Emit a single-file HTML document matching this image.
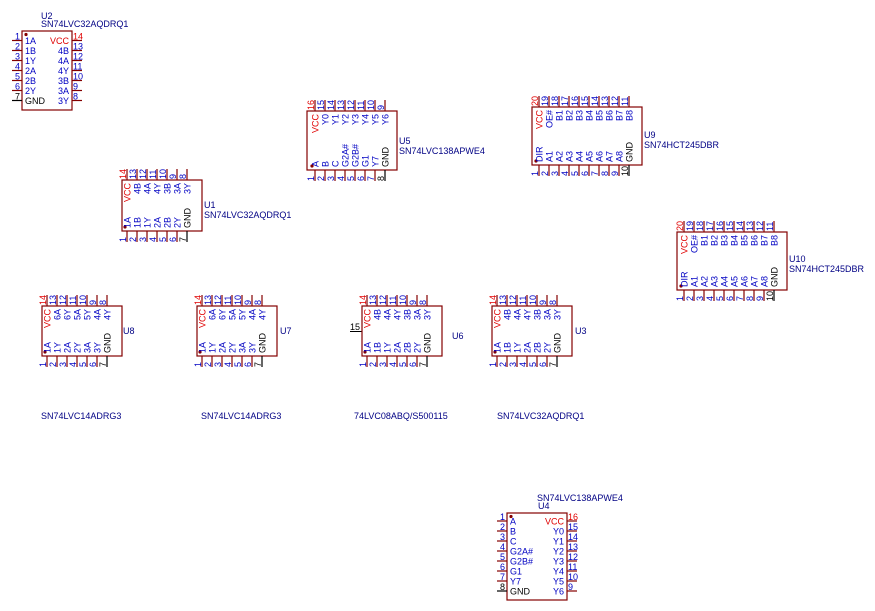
<!DOCTYPE html>
<html><head><meta charset="utf-8"><style>
html,body{margin:0;padding:0;background:#fff;}
svg{display:block;font-family:"Liberation Sans",sans-serif;}
.b{fill:#fff;stroke:#840000;stroke-width:1.2;}
.p line{stroke:#840000;stroke-width:1.2;}
line.k{stroke:#000 !important;}
text{font-size:9px;}
.n{fill:#0000c2;}
.l{fill:#0000c2;}
.r{fill:#e00000;}
.k{fill:#000;}
.f{fill:#000084;}
.e{text-anchor:end;}
.d{fill:#840000;}
</style></head><body>
<svg width="875" height="611" viewBox="0 0 875 611">

<!-- U2 horizontal -->
<text class="f" x="41" y="19">U2</text>
<text class="f" x="41" y="27">SN74LVC32AQDRQ1</text>
<g transform="translate(22,40.5)" class="p">
<rect class="b" x="0" y="-9.5" width="50" height="79"/>
<circle class="d" cx="4" cy="-6" r="1.6"/>
<line x1="-10" y1="0" x2="0" y2="0"/><line x1="-10" y1="10" x2="0" y2="10"/><line x1="-10" y1="20" x2="0" y2="20"/><line x1="-10" y1="30" x2="0" y2="30"/><line x1="-10" y1="40" x2="0" y2="40"/><line x1="-10" y1="50" x2="0" y2="50"/><line class="k" x1="-10" y1="60" x2="0" y2="60"/>
<line x1="50" y1="0" x2="60" y2="0"/><line x1="50" y1="10" x2="60" y2="10"/><line x1="50" y1="20" x2="60" y2="20"/><line x1="50" y1="30" x2="60" y2="30"/><line x1="50" y1="40" x2="60" y2="40"/><line x1="50" y1="50" x2="60" y2="50"/><line x1="50" y1="60" x2="60" y2="60"/>
<text class="n e" x="-2" y="-1">1</text><text class="n e" x="-2" y="9">2</text><text class="n e" x="-2" y="19">3</text><text class="n e" x="-2" y="29">4</text><text class="n e" x="-2" y="39">5</text><text class="n e" x="-2" y="49">6</text><text class="k e" x="-2" y="59">7</text>
<text class="r" x="51" y="-1">14</text><text class="n" x="51" y="9">13</text><text class="n" x="51" y="19">12</text><text class="n" x="51" y="29">11</text><text class="n" x="51" y="39">10</text><text class="n" x="51" y="49">9</text><text class="n" x="51" y="59">8</text>
<text class="l" x="3" y="3.5">1A</text><text class="l" x="3" y="13.5">1B</text><text class="l" x="3" y="23.5">1Y</text><text class="l" x="3" y="33.5">2A</text><text class="l" x="3" y="43.5">2B</text><text class="l" x="3" y="53.5">2Y</text><text class="k" x="3" y="63.5">GND</text>
<text class="r e" x="47" y="3.5">VCC</text><text class="l e" x="47" y="13.5">4B</text><text class="l e" x="47" y="23.5">4A</text><text class="l e" x="47" y="33.5">4Y</text><text class="l e" x="47" y="43.5">3B</text><text class="l e" x="47" y="53.5">3A</text><text class="l e" x="47" y="63.5">3Y</text>
</g>

<!-- U4 horizontal -->
<text class="f" x="537" y="501">SN74LVC138APWE4</text>
<text class="f" x="538" y="509">U4</text>
<g transform="translate(507,521)" class="p">
<rect class="b" x="0" y="-8" width="60" height="87"/>
<circle class="d" cx="4" cy="-4.5" r="1.6"/>
<line x1="-10" y1="0" x2="0" y2="0"/><line x1="-10" y1="10" x2="0" y2="10"/><line x1="-10" y1="20" x2="0" y2="20"/><line x1="-10" y1="30" x2="0" y2="30"/><line x1="-10" y1="40" x2="0" y2="40"/><line x1="-10" y1="50" x2="0" y2="50"/><line x1="-10" y1="60" x2="0" y2="60"/><line class="k" x1="-10" y1="70" x2="0" y2="70"/>
<line x1="60" y1="0" x2="70" y2="0"/><line x1="60" y1="10" x2="70" y2="10"/><line x1="60" y1="20" x2="70" y2="20"/><line x1="60" y1="30" x2="70" y2="30"/><line x1="60" y1="40" x2="70" y2="40"/><line x1="60" y1="50" x2="70" y2="50"/><line x1="60" y1="60" x2="70" y2="60"/><line x1="60" y1="70" x2="70" y2="70"/>
<text class="n e" x="-2" y="-1">1</text><text class="n e" x="-2" y="9">2</text><text class="n e" x="-2" y="19">3</text><text class="n e" x="-2" y="29">4</text><text class="n e" x="-2" y="39">5</text><text class="n e" x="-2" y="49">6</text><text class="n e" x="-2" y="59">7</text><text class="k e" x="-2" y="69">8</text>
<text class="r" x="61" y="-1">16</text><text class="n" x="61" y="9">15</text><text class="n" x="61" y="19">14</text><text class="n" x="61" y="29">13</text><text class="n" x="61" y="39">12</text><text class="n" x="61" y="49">11</text><text class="n" x="61" y="59">10</text><text class="n" x="61" y="69">9</text>
<text class="l" x="3" y="3.5">A</text><text class="l" x="3" y="13.5">B</text><text class="l" x="3" y="23.5">C</text><text class="l" x="3" y="33.5">G2A#</text><text class="l" x="3" y="43.5">G2B#</text><text class="l" x="3" y="53.5">G1</text><text class="l" x="3" y="63.5">Y7</text><text class="k" x="3" y="73.5">GND</text>
<text class="r e" x="57" y="3.5">VCC</text><text class="l e" x="57" y="13.5">Y0</text><text class="l e" x="57" y="23.5">Y1</text><text class="l e" x="57" y="33.5">Y2</text><text class="l e" x="57" y="43.5">Y3</text><text class="l e" x="57" y="53.5">Y4</text><text class="l e" x="57" y="63.5">Y5</text><text class="l e" x="57" y="73.5">Y6</text>
</g>

<!-- U1 -->
<text class="f" x="204" y="208">U1</text>
<text class="f" x="204" y="218">SN74LVC32AQDRQ1</text>
<g transform="translate(127,180)" class="p">
<rect class="b" x="-5" y="0" width="80" height="51"/>
<circle class="d" cx="-2" cy="47" r="1.6"/>
<line x1="0" y1="-11" x2="0" y2="0"/><line x1="10" y1="-11" x2="10" y2="0"/><line x1="20" y1="-11" x2="20" y2="0"/><line x1="30" y1="-11" x2="30" y2="0"/><line x1="40" y1="-11" x2="40" y2="0"/><line x1="50" y1="-11" x2="50" y2="0"/><line x1="60" y1="-11" x2="60" y2="0"/>
<line x1="0" y1="51" x2="0" y2="62"/><line x1="10" y1="51" x2="10" y2="62"/><line x1="20" y1="51" x2="20" y2="62"/><line x1="30" y1="51" x2="30" y2="62"/><line x1="40" y1="51" x2="40" y2="62"/><line x1="50" y1="51" x2="50" y2="62"/><line class="k" x1="60" y1="51" x2="60" y2="62"/>
<text class="r" transform="translate(-1,-1) rotate(-90)">14</text><text class="n" transform="translate(9,-1) rotate(-90)">13</text><text class="n" transform="translate(19,-1) rotate(-90)">12</text><text class="n" transform="translate(29,-1) rotate(-90)">11</text><text class="n" transform="translate(39,-1) rotate(-90)">10</text><text class="n" transform="translate(49,-1) rotate(-90)">9</text><text class="n" transform="translate(59,-1) rotate(-90)">8</text>
<text class="n" transform="translate(-1,62) rotate(-90)">1</text><text class="n" transform="translate(9,62) rotate(-90)">2</text><text class="n" transform="translate(19,62) rotate(-90)">3</text><text class="n" transform="translate(29,62) rotate(-90)">4</text><text class="n" transform="translate(39,62) rotate(-90)">5</text><text class="n" transform="translate(49,62) rotate(-90)">6</text><text class="k" transform="translate(59,62) rotate(-90)">7</text>
<text class="r e" transform="translate(3.5,3) rotate(-90)">VCC</text><text class="l e" transform="translate(13.5,3) rotate(-90)">4B</text><text class="l e" transform="translate(23.5,3) rotate(-90)">4A</text><text class="l e" transform="translate(33.5,3) rotate(-90)">4Y</text><text class="l e" transform="translate(43.5,3) rotate(-90)">3B</text><text class="l e" transform="translate(53.5,3) rotate(-90)">3A</text><text class="l e" transform="translate(63.5,3) rotate(-90)">3Y</text>
<text class="l" transform="translate(3.5,48) rotate(-90)">1A</text><text class="l" transform="translate(13.5,48) rotate(-90)">1B</text><text class="l" transform="translate(23.5,48) rotate(-90)">1Y</text><text class="l" transform="translate(33.5,48) rotate(-90)">2A</text><text class="l" transform="translate(43.5,48) rotate(-90)">2B</text><text class="l" transform="translate(53.5,48) rotate(-90)">2Y</text><text class="k" transform="translate(63.5,48) rotate(-90)">GND</text>
</g>

<!-- U8 -->
<text class="f" x="123" y="334">U8</text>
<text class="f" x="41" y="419">SN74LVC14ADRG3</text>
<g transform="translate(47,306)" class="p">
<rect class="b" x="-5" y="0" width="80" height="50"/>
<circle class="d" cx="-2" cy="46" r="1.6"/>
<line x1="0" y1="-11" x2="0" y2="0"/><line x1="10" y1="-11" x2="10" y2="0"/><line x1="20" y1="-11" x2="20" y2="0"/><line x1="30" y1="-11" x2="30" y2="0"/><line x1="40" y1="-11" x2="40" y2="0"/><line x1="50" y1="-11" x2="50" y2="0"/><line x1="60" y1="-11" x2="60" y2="0"/>
<line x1="0" y1="50" x2="0" y2="61"/><line x1="10" y1="50" x2="10" y2="61"/><line x1="20" y1="50" x2="20" y2="61"/><line x1="30" y1="50" x2="30" y2="61"/><line x1="40" y1="50" x2="40" y2="61"/><line x1="50" y1="50" x2="50" y2="61"/><line class="k" x1="60" y1="50" x2="60" y2="61"/>
<text class="r" transform="translate(-1,-1) rotate(-90)">14</text><text class="n" transform="translate(9,-1) rotate(-90)">13</text><text class="n" transform="translate(19,-1) rotate(-90)">12</text><text class="n" transform="translate(29,-1) rotate(-90)">11</text><text class="n" transform="translate(39,-1) rotate(-90)">10</text><text class="n" transform="translate(49,-1) rotate(-90)">9</text><text class="n" transform="translate(59,-1) rotate(-90)">8</text>
<text class="n" transform="translate(-1,61) rotate(-90)">1</text><text class="n" transform="translate(9,61) rotate(-90)">2</text><text class="n" transform="translate(19,61) rotate(-90)">3</text><text class="n" transform="translate(29,61) rotate(-90)">4</text><text class="n" transform="translate(39,61) rotate(-90)">5</text><text class="n" transform="translate(49,61) rotate(-90)">6</text><text class="k" transform="translate(59,61) rotate(-90)">7</text>
<text class="r e" transform="translate(3.5,3) rotate(-90)">VCC</text><text class="l e" transform="translate(13.5,3) rotate(-90)">6A</text><text class="l e" transform="translate(23.5,3) rotate(-90)">6Y</text><text class="l e" transform="translate(33.5,3) rotate(-90)">5A</text><text class="l e" transform="translate(43.5,3) rotate(-90)">5Y</text><text class="l e" transform="translate(53.5,3) rotate(-90)">4A</text><text class="l e" transform="translate(63.5,3) rotate(-90)">4Y</text>
<text class="l" transform="translate(3.5,47) rotate(-90)">1A</text><text class="l" transform="translate(13.5,47) rotate(-90)">1Y</text><text class="l" transform="translate(23.5,47) rotate(-90)">2A</text><text class="l" transform="translate(33.5,47) rotate(-90)">2Y</text><text class="l" transform="translate(43.5,47) rotate(-90)">3A</text><text class="l" transform="translate(53.5,47) rotate(-90)">3Y</text><text class="k" transform="translate(63.5,47) rotate(-90)">GND</text>
</g>

<!-- U7 -->
<text class="f" x="280" y="334">U7</text>
<text class="f" x="201" y="419">SN74LVC14ADRG3</text>
<g transform="translate(202,306)" class="p">
<rect class="b" x="-5" y="0" width="80" height="50"/>
<circle class="d" cx="-2" cy="46" r="1.6"/>
<line x1="0" y1="-11" x2="0" y2="0"/><line x1="10" y1="-11" x2="10" y2="0"/><line x1="20" y1="-11" x2="20" y2="0"/><line x1="30" y1="-11" x2="30" y2="0"/><line x1="40" y1="-11" x2="40" y2="0"/><line x1="50" y1="-11" x2="50" y2="0"/><line x1="60" y1="-11" x2="60" y2="0"/>
<line x1="0" y1="50" x2="0" y2="61"/><line x1="10" y1="50" x2="10" y2="61"/><line x1="20" y1="50" x2="20" y2="61"/><line x1="30" y1="50" x2="30" y2="61"/><line x1="40" y1="50" x2="40" y2="61"/><line x1="50" y1="50" x2="50" y2="61"/><line class="k" x1="60" y1="50" x2="60" y2="61"/>
<text class="r" transform="translate(-1,-1) rotate(-90)">14</text><text class="n" transform="translate(9,-1) rotate(-90)">13</text><text class="n" transform="translate(19,-1) rotate(-90)">12</text><text class="n" transform="translate(29,-1) rotate(-90)">11</text><text class="n" transform="translate(39,-1) rotate(-90)">10</text><text class="n" transform="translate(49,-1) rotate(-90)">9</text><text class="n" transform="translate(59,-1) rotate(-90)">8</text>
<text class="n" transform="translate(-1,61) rotate(-90)">1</text><text class="n" transform="translate(9,61) rotate(-90)">2</text><text class="n" transform="translate(19,61) rotate(-90)">3</text><text class="n" transform="translate(29,61) rotate(-90)">4</text><text class="n" transform="translate(39,61) rotate(-90)">5</text><text class="n" transform="translate(49,61) rotate(-90)">6</text><text class="k" transform="translate(59,61) rotate(-90)">7</text>
<text class="r e" transform="translate(3.5,3) rotate(-90)">VCC</text><text class="l e" transform="translate(13.5,3) rotate(-90)">6A</text><text class="l e" transform="translate(23.5,3) rotate(-90)">6Y</text><text class="l e" transform="translate(33.5,3) rotate(-90)">5A</text><text class="l e" transform="translate(43.5,3) rotate(-90)">5Y</text><text class="l e" transform="translate(53.5,3) rotate(-90)">4A</text><text class="l e" transform="translate(63.5,3) rotate(-90)">4Y</text>
<text class="l" transform="translate(3.5,47) rotate(-90)">1A</text><text class="l" transform="translate(13.5,47) rotate(-90)">1Y</text><text class="l" transform="translate(23.5,47) rotate(-90)">2A</text><text class="l" transform="translate(33.5,47) rotate(-90)">2Y</text><text class="l" transform="translate(43.5,47) rotate(-90)">3A</text><text class="l" transform="translate(53.5,47) rotate(-90)">3Y</text><text class="k" transform="translate(63.5,47) rotate(-90)">GND</text>
</g>

<!-- U6 -->
<text class="f" x="452" y="339">U6</text>
<text class="f" x="354" y="419">74LVC08ABQ/S500115</text>
<text class="k" x="350" y="330">15</text>
<line x1="350" y1="331.5" x2="362" y2="331.5" stroke="#000" stroke-width="1"/>
<g transform="translate(367,306)" class="p">
<rect class="b" x="-5" y="0" width="80" height="50"/>
<circle class="d" cx="-2" cy="46" r="1.6"/>
<line x1="0" y1="-11" x2="0" y2="0"/><line x1="10" y1="-11" x2="10" y2="0"/><line x1="20" y1="-11" x2="20" y2="0"/><line x1="30" y1="-11" x2="30" y2="0"/><line x1="40" y1="-11" x2="40" y2="0"/><line x1="50" y1="-11" x2="50" y2="0"/><line x1="60" y1="-11" x2="60" y2="0"/>
<line x1="0" y1="50" x2="0" y2="61"/><line x1="10" y1="50" x2="10" y2="61"/><line x1="20" y1="50" x2="20" y2="61"/><line x1="30" y1="50" x2="30" y2="61"/><line x1="40" y1="50" x2="40" y2="61"/><line x1="50" y1="50" x2="50" y2="61"/><line class="k" x1="60" y1="50" x2="60" y2="61"/>
<text class="r" transform="translate(-1,-1) rotate(-90)">14</text><text class="n" transform="translate(9,-1) rotate(-90)">13</text><text class="n" transform="translate(19,-1) rotate(-90)">12</text><text class="n" transform="translate(29,-1) rotate(-90)">11</text><text class="n" transform="translate(39,-1) rotate(-90)">10</text><text class="n" transform="translate(49,-1) rotate(-90)">9</text><text class="n" transform="translate(59,-1) rotate(-90)">8</text>
<text class="n" transform="translate(-1,61) rotate(-90)">1</text><text class="n" transform="translate(9,61) rotate(-90)">2</text><text class="n" transform="translate(19,61) rotate(-90)">3</text><text class="n" transform="translate(29,61) rotate(-90)">4</text><text class="n" transform="translate(39,61) rotate(-90)">5</text><text class="n" transform="translate(49,61) rotate(-90)">6</text><text class="k" transform="translate(59,61) rotate(-90)">7</text>
<text class="r e" transform="translate(3.5,3) rotate(-90)">VCC</text><text class="l e" transform="translate(13.5,3) rotate(-90)">4B</text><text class="l e" transform="translate(23.5,3) rotate(-90)">4A</text><text class="l e" transform="translate(33.5,3) rotate(-90)">4Y</text><text class="l e" transform="translate(43.5,3) rotate(-90)">3B</text><text class="l e" transform="translate(53.5,3) rotate(-90)">3A</text><text class="l e" transform="translate(63.5,3) rotate(-90)">3Y</text>
<text class="l" transform="translate(3.5,47) rotate(-90)">1A</text><text class="l" transform="translate(13.5,47) rotate(-90)">1B</text><text class="l" transform="translate(23.5,47) rotate(-90)">1Y</text><text class="l" transform="translate(33.5,47) rotate(-90)">2A</text><text class="l" transform="translate(43.5,47) rotate(-90)">2B</text><text class="l" transform="translate(53.5,47) rotate(-90)">2Y</text><text class="k" transform="translate(63.5,47) rotate(-90)">GND</text>
</g>

<!-- U3 -->
<text class="f" x="575" y="334">U3</text>
<text class="f" x="497" y="419">SN74LVC32AQDRQ1</text>
<g transform="translate(497,306)" class="p">
<rect class="b" x="-5" y="0" width="80" height="50"/>
<circle class="d" cx="-2" cy="46" r="1.6"/>
<line x1="0" y1="-11" x2="0" y2="0"/><line x1="10" y1="-11" x2="10" y2="0"/><line x1="20" y1="-11" x2="20" y2="0"/><line x1="30" y1="-11" x2="30" y2="0"/><line x1="40" y1="-11" x2="40" y2="0"/><line x1="50" y1="-11" x2="50" y2="0"/><line x1="60" y1="-11" x2="60" y2="0"/>
<line x1="0" y1="50" x2="0" y2="61"/><line x1="10" y1="50" x2="10" y2="61"/><line x1="20" y1="50" x2="20" y2="61"/><line x1="30" y1="50" x2="30" y2="61"/><line x1="40" y1="50" x2="40" y2="61"/><line x1="50" y1="50" x2="50" y2="61"/><line class="k" x1="60" y1="50" x2="60" y2="61"/>
<text class="r" transform="translate(-1,-1) rotate(-90)">14</text><text class="n" transform="translate(9,-1) rotate(-90)">13</text><text class="n" transform="translate(19,-1) rotate(-90)">12</text><text class="n" transform="translate(29,-1) rotate(-90)">11</text><text class="n" transform="translate(39,-1) rotate(-90)">10</text><text class="n" transform="translate(49,-1) rotate(-90)">9</text><text class="n" transform="translate(59,-1) rotate(-90)">8</text>
<text class="n" transform="translate(-1,61) rotate(-90)">1</text><text class="n" transform="translate(9,61) rotate(-90)">2</text><text class="n" transform="translate(19,61) rotate(-90)">3</text><text class="n" transform="translate(29,61) rotate(-90)">4</text><text class="n" transform="translate(39,61) rotate(-90)">5</text><text class="n" transform="translate(49,61) rotate(-90)">6</text><text class="k" transform="translate(59,61) rotate(-90)">7</text>
<text class="r e" transform="translate(3.5,3) rotate(-90)">VCC</text><text class="l e" transform="translate(13.5,3) rotate(-90)">4B</text><text class="l e" transform="translate(23.5,3) rotate(-90)">4A</text><text class="l e" transform="translate(33.5,3) rotate(-90)">4Y</text><text class="l e" transform="translate(43.5,3) rotate(-90)">3B</text><text class="l e" transform="translate(53.5,3) rotate(-90)">3A</text><text class="l e" transform="translate(63.5,3) rotate(-90)">3Y</text>
<text class="l" transform="translate(3.5,47) rotate(-90)">1A</text><text class="l" transform="translate(13.5,47) rotate(-90)">1B</text><text class="l" transform="translate(23.5,47) rotate(-90)">1Y</text><text class="l" transform="translate(33.5,47) rotate(-90)">2A</text><text class="l" transform="translate(43.5,47) rotate(-90)">2B</text><text class="l" transform="translate(53.5,47) rotate(-90)">2Y</text><text class="k" transform="translate(63.5,47) rotate(-90)">GND</text>
</g>

<!-- U5 -->
<text class="f" x="399" y="144">U5</text>
<text class="f" x="399" y="154">SN74LVC138APWE4</text>
<g transform="translate(315,111)" class="p">
<rect class="b" x="-8" y="0" width="90" height="59"/>
<circle class="d" cx="-3" cy="55" r="1.6"/>
<line x1="0" y1="-11" x2="0" y2="0"/><line x1="10" y1="-11" x2="10" y2="0"/><line x1="20" y1="-11" x2="20" y2="0"/><line x1="30" y1="-11" x2="30" y2="0"/><line x1="40" y1="-11" x2="40" y2="0"/><line x1="50" y1="-11" x2="50" y2="0"/><line x1="60" y1="-11" x2="60" y2="0"/><line x1="70" y1="-11" x2="70" y2="0"/>
<line x1="0" y1="59" x2="0" y2="70"/><line x1="10" y1="59" x2="10" y2="70"/><line x1="20" y1="59" x2="20" y2="70"/><line x1="30" y1="59" x2="30" y2="70"/><line x1="40" y1="59" x2="40" y2="70"/><line x1="50" y1="59" x2="50" y2="70"/><line x1="60" y1="59" x2="60" y2="70"/><line class="k" x1="70" y1="59" x2="70" y2="70"/>
<text class="r" transform="translate(-1,-1) rotate(-90)">16</text><text class="n" transform="translate(9,-1) rotate(-90)">15</text><text class="n" transform="translate(19,-1) rotate(-90)">14</text><text class="n" transform="translate(29,-1) rotate(-90)">13</text><text class="n" transform="translate(39,-1) rotate(-90)">12</text><text class="n" transform="translate(49,-1) rotate(-90)">11</text><text class="n" transform="translate(59,-1) rotate(-90)">10</text><text class="n" transform="translate(69,-1) rotate(-90)">9</text>
<text class="n" transform="translate(-1,70) rotate(-90)">1</text><text class="n" transform="translate(9,70) rotate(-90)">2</text><text class="n" transform="translate(19,70) rotate(-90)">3</text><text class="n" transform="translate(29,70) rotate(-90)">4</text><text class="n" transform="translate(39,70) rotate(-90)">5</text><text class="n" transform="translate(49,70) rotate(-90)">6</text><text class="n" transform="translate(59,70) rotate(-90)">7</text><text class="k" transform="translate(69,70) rotate(-90)">8</text>
<text class="r e" transform="translate(3.5,3) rotate(-90)">VCC</text><text class="l e" transform="translate(13.5,3) rotate(-90)">Y0</text><text class="l e" transform="translate(23.5,3) rotate(-90)">Y1</text><text class="l e" transform="translate(33.5,3) rotate(-90)">Y2</text><text class="l e" transform="translate(43.5,3) rotate(-90)">Y3</text><text class="l e" transform="translate(53.5,3) rotate(-90)">Y4</text><text class="l e" transform="translate(63.5,3) rotate(-90)">Y5</text><text class="l e" transform="translate(73.5,3) rotate(-90)">Y6</text>
<text class="l" transform="translate(3.5,56) rotate(-90)">A</text><text class="l" transform="translate(13.5,56) rotate(-90)">B</text><text class="l" transform="translate(23.5,56) rotate(-90)">C</text><text class="l" transform="translate(33.5,56) rotate(-90)">G2A#</text><text class="l" transform="translate(43.5,56) rotate(-90)">G2B#</text><text class="l" transform="translate(53.5,56) rotate(-90)">G1</text><text class="l" transform="translate(63.5,56) rotate(-90)">Y7</text><text class="k" transform="translate(73.5,56) rotate(-90)">GND</text>
</g>

<!-- U9 -->
<text class="f" x="644" y="138">U9</text>
<text class="f" x="644" y="148">SN74HCT245DBR</text>
<g transform="translate(539,107)" class="p">
<rect class="b" x="-7" y="0" width="110" height="58"/>
<circle class="d" cx="-3" cy="54" r="1.6"/>
<line x1="0" y1="-11" x2="0" y2="0"/><line x1="10" y1="-11" x2="10" y2="0"/><line x1="20" y1="-11" x2="20" y2="0"/><line x1="30" y1="-11" x2="30" y2="0"/><line x1="40" y1="-11" x2="40" y2="0"/><line x1="50" y1="-11" x2="50" y2="0"/><line x1="60" y1="-11" x2="60" y2="0"/><line x1="70" y1="-11" x2="70" y2="0"/><line x1="80" y1="-11" x2="80" y2="0"/><line x1="90" y1="-11" x2="90" y2="0"/>
<line x1="0" y1="58" x2="0" y2="69"/><line x1="10" y1="58" x2="10" y2="69"/><line x1="20" y1="58" x2="20" y2="69"/><line x1="30" y1="58" x2="30" y2="69"/><line x1="40" y1="58" x2="40" y2="69"/><line x1="50" y1="58" x2="50" y2="69"/><line x1="60" y1="58" x2="60" y2="69"/><line x1="70" y1="58" x2="70" y2="69"/><line x1="80" y1="58" x2="80" y2="69"/><line class="k" x1="90" y1="58" x2="90" y2="69"/>
<text class="r" transform="translate(-1,-1) rotate(-90)">20</text><text class="n" transform="translate(9,-1) rotate(-90)">19</text><text class="n" transform="translate(19,-1) rotate(-90)">18</text><text class="n" transform="translate(29,-1) rotate(-90)">17</text><text class="n" transform="translate(39,-1) rotate(-90)">16</text><text class="n" transform="translate(49,-1) rotate(-90)">15</text><text class="n" transform="translate(59,-1) rotate(-90)">14</text><text class="n" transform="translate(69,-1) rotate(-90)">13</text><text class="n" transform="translate(79,-1) rotate(-90)">12</text><text class="n" transform="translate(89,-1) rotate(-90)">11</text>
<text class="n" transform="translate(-1,69) rotate(-90)">1</text><text class="n" transform="translate(9,69) rotate(-90)">2</text><text class="n" transform="translate(19,69) rotate(-90)">3</text><text class="n" transform="translate(29,69) rotate(-90)">4</text><text class="n" transform="translate(39,69) rotate(-90)">5</text><text class="n" transform="translate(49,69) rotate(-90)">6</text><text class="n" transform="translate(59,69) rotate(-90)">7</text><text class="n" transform="translate(69,69) rotate(-90)">8</text><text class="n" transform="translate(79,69) rotate(-90)">9</text><text class="k" transform="translate(89,69) rotate(-90)">10</text>
<text class="r e" transform="translate(3.5,3) rotate(-90)">VCC</text><text class="l e" transform="translate(13.5,3) rotate(-90)">OE#</text><text class="l e" transform="translate(23.5,3) rotate(-90)">B1</text><text class="l e" transform="translate(33.5,3) rotate(-90)">B2</text><text class="l e" transform="translate(43.5,3) rotate(-90)">B3</text><text class="l e" transform="translate(53.5,3) rotate(-90)">B4</text><text class="l e" transform="translate(63.5,3) rotate(-90)">B5</text><text class="l e" transform="translate(73.5,3) rotate(-90)">B6</text><text class="l e" transform="translate(83.5,3) rotate(-90)">B7</text><text class="l e" transform="translate(93.5,3) rotate(-90)">B8</text>
<text class="l" transform="translate(3.5,55) rotate(-90)">DIR</text><text class="l" transform="translate(13.5,55) rotate(-90)">A1</text><text class="l" transform="translate(23.5,55) rotate(-90)">A2</text><text class="l" transform="translate(33.5,55) rotate(-90)">A3</text><text class="l" transform="translate(43.5,55) rotate(-90)">A4</text><text class="l" transform="translate(53.5,55) rotate(-90)">A5</text><text class="l" transform="translate(63.5,55) rotate(-90)">A6</text><text class="l" transform="translate(73.5,55) rotate(-90)">A7</text><text class="l" transform="translate(83.5,55) rotate(-90)">A8</text><text class="k" transform="translate(93.5,55) rotate(-90)">GND</text>
</g>

<!-- U10 -->
<text class="f" x="789" y="262">U10</text>
<text class="f" x="789" y="272">SN74HCT245DBR</text>
<g transform="translate(684,232)" class="p">
<rect class="b" x="-7" y="0" width="110" height="58"/>
<circle class="d" cx="-3" cy="54" r="1.6"/>
<line x1="0" y1="-11" x2="0" y2="0"/><line x1="10" y1="-11" x2="10" y2="0"/><line x1="20" y1="-11" x2="20" y2="0"/><line x1="30" y1="-11" x2="30" y2="0"/><line x1="40" y1="-11" x2="40" y2="0"/><line x1="50" y1="-11" x2="50" y2="0"/><line x1="60" y1="-11" x2="60" y2="0"/><line x1="70" y1="-11" x2="70" y2="0"/><line x1="80" y1="-11" x2="80" y2="0"/><line x1="90" y1="-11" x2="90" y2="0"/>
<line x1="0" y1="58" x2="0" y2="69"/><line x1="10" y1="58" x2="10" y2="69"/><line x1="20" y1="58" x2="20" y2="69"/><line x1="30" y1="58" x2="30" y2="69"/><line x1="40" y1="58" x2="40" y2="69"/><line x1="50" y1="58" x2="50" y2="69"/><line x1="60" y1="58" x2="60" y2="69"/><line x1="70" y1="58" x2="70" y2="69"/><line x1="80" y1="58" x2="80" y2="69"/><line class="k" x1="90" y1="58" x2="90" y2="69"/>
<text class="r" transform="translate(-1,-1) rotate(-90)">20</text><text class="n" transform="translate(9,-1) rotate(-90)">19</text><text class="n" transform="translate(19,-1) rotate(-90)">18</text><text class="n" transform="translate(29,-1) rotate(-90)">17</text><text class="n" transform="translate(39,-1) rotate(-90)">16</text><text class="n" transform="translate(49,-1) rotate(-90)">15</text><text class="n" transform="translate(59,-1) rotate(-90)">14</text><text class="n" transform="translate(69,-1) rotate(-90)">13</text><text class="n" transform="translate(79,-1) rotate(-90)">12</text><text class="n" transform="translate(89,-1) rotate(-90)">11</text>
<text class="n" transform="translate(-1,69) rotate(-90)">1</text><text class="n" transform="translate(9,69) rotate(-90)">2</text><text class="n" transform="translate(19,69) rotate(-90)">3</text><text class="n" transform="translate(29,69) rotate(-90)">4</text><text class="n" transform="translate(39,69) rotate(-90)">5</text><text class="n" transform="translate(49,69) rotate(-90)">6</text><text class="n" transform="translate(59,69) rotate(-90)">7</text><text class="n" transform="translate(69,69) rotate(-90)">8</text><text class="n" transform="translate(79,69) rotate(-90)">9</text><text class="k" transform="translate(89,69) rotate(-90)">10</text>
<text class="r e" transform="translate(3.5,3) rotate(-90)">VCC</text><text class="l e" transform="translate(13.5,3) rotate(-90)">OE#</text><text class="l e" transform="translate(23.5,3) rotate(-90)">B1</text><text class="l e" transform="translate(33.5,3) rotate(-90)">B2</text><text class="l e" transform="translate(43.5,3) rotate(-90)">B3</text><text class="l e" transform="translate(53.5,3) rotate(-90)">B4</text><text class="l e" transform="translate(63.5,3) rotate(-90)">B5</text><text class="l e" transform="translate(73.5,3) rotate(-90)">B6</text><text class="l e" transform="translate(83.5,3) rotate(-90)">B7</text><text class="l e" transform="translate(93.5,3) rotate(-90)">B8</text>
<text class="l" transform="translate(3.5,55) rotate(-90)">DIR</text><text class="l" transform="translate(13.5,55) rotate(-90)">A1</text><text class="l" transform="translate(23.5,55) rotate(-90)">A2</text><text class="l" transform="translate(33.5,55) rotate(-90)">A3</text><text class="l" transform="translate(43.5,55) rotate(-90)">A4</text><text class="l" transform="translate(53.5,55) rotate(-90)">A5</text><text class="l" transform="translate(63.5,55) rotate(-90)">A6</text><text class="l" transform="translate(73.5,55) rotate(-90)">A7</text><text class="l" transform="translate(83.5,55) rotate(-90)">A8</text><text class="k" transform="translate(93.5,55) rotate(-90)">GND</text>
</g>

</svg>
</body></html>
